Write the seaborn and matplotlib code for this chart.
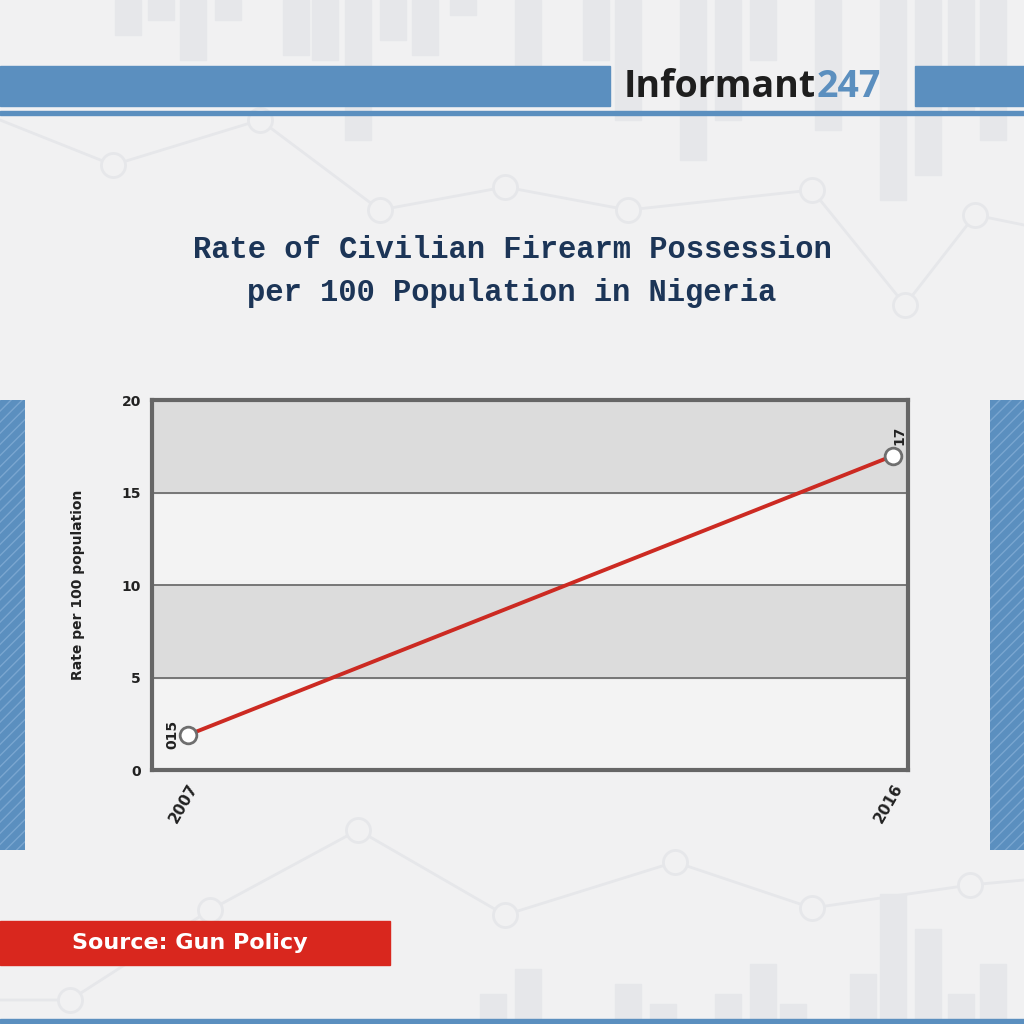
import matplotlib
matplotlib.use("Agg")
import matplotlib.pyplot as plt
import matplotlib.patches as mpatches
import seaborn as sns
import pandas as pd

# data
years = [2007, 2016]
rates = [1.9, 17]
point_labels = ["015", "17"]
y_ticks = [0, 5, 10, 15, 20]

df = pd.DataFrame({"year": years, "rate": rates})

sns.set_style("white")
plt.rcParams["font.family"] = ["DejaVu Sans"]

fig = plt.figure(figsize=(10.24, 10.24), dpi=100)
fig.patch.set_facecolor("#f1f1f2")

# =====================
# BACKGROUND DECORATION
# =====================
bg = fig.add_axes([0, 0, 1, 1], zorder=0)
bg.set_xlim(0, 1024)
bg.set_ylim(1024, 0)
bg.axis("off")

deco = "#e6e7ea"
# faint bars top and bottom
for x, y0, h in [(115, 0, 35), (148, 0, 20), (180, 0, 60), (215, 0, 20), (283, 0, 55), (312, 0, 60),
                 (345, 0, 140), (380, 0, 40), (412, 0, 55), (450, 0, 15), (515, 0, 100), (583, 0, 60),
                 (615, 0, 120), (680, 0, 160), (715, 0, 120), (750, 0, 60), (815, 0, 130), (880, 0, 200),
                 (915, 0, 175), (948, 0, 110), (980, 0, 140)]:
    bg.add_patch(mpatches.Rectangle((x, y0), 26, h, color=deco, zorder=0))
for x, h in [(480, 30), (515, 55), (615, 40), (650, 20), (715, 30), (750, 60), (780, 20), (850, 50),
             (880, 130), (915, 95), (948, 30), (980, 60)]:
    bg.add_patch(mpatches.Rectangle((x, 1024 - h), 26, h, color=deco, zorder=0))
# faint connecting lines with circles
deco_x = [0, 113, 260, 380, 505, 628, 812, 905, 975, 1024]
deco_y = [120, 165, 120, 210, 187, 210, 190, 305, 215, 225]
bg.plot(deco_x, deco_y, color=deco, lw=2, zorder=0)
bg.scatter(deco_x[1:-1], deco_y[1:-1], s=300, facecolor="#f1f1f2", edgecolor=deco, lw=2, zorder=0)
deco_x2 = [0, 70, 210, 358, 505, 675, 812, 970, 1024]
deco_y2 = [1000, 1000, 910, 830, 915, 862, 908, 885, 880]
bg.plot(deco_x2, deco_y2, color=deco, lw=2, zorder=0)
bg.scatter(deco_x2[1:-1], deco_y2[1:-1], s=300, facecolor="#f1f1f2", edgecolor=deco, lw=2, zorder=0)

# header band
bg.add_patch(mpatches.Rectangle((0, 66), 610, 40, color="#5b8fbf", zorder=2))
bg.add_patch(mpatches.Rectangle((915, 66), 109, 40, color="#5b8fbf", zorder=2))
bg.add_patch(mpatches.Rectangle((0, 111), 1024, 4, color="#5b8fbf", zorder=2))
bg.add_patch(mpatches.Rectangle((0, 1019), 1024, 4, color="#5b8fbf", zorder=2))
brand = bg.text(624, 87, "Informant", fontsize=27, fontweight="bold", color="#1e1e1e", va="center",
                ha="left", family="Open Sans", zorder=3)
fig.canvas.draw()
bb = brand.get_window_extent().transformed(bg.transData.inverted())
bg.text(bb.x1, 87, "247", fontsize=27, fontweight="bold", color="#5b8fbf", va="center", ha="left",
        family="Open Sans", zorder=3)

# side stripes
for x0, w in ((0, 25), (990, 34)):
    bg.add_patch(mpatches.Rectangle((x0, 400), w, 450, facecolor="#5b8fbf",
                                    edgecolor="#7aa6d0", hatch="///", lw=0, zorder=2))

# source box
bg.add_patch(mpatches.Rectangle((0, 921), 390, 44, color="#d9271e", zorder=2))
bg.text(72, 943, "Source: Gun Policy", fontsize=16, fontweight="bold", color="white", va="center",
        ha="left", family="DejaVu Sans", zorder=3)

# title
fig.text(0.5, 0.735, "Rate of Civilian Firearm Possession\nper 100 Population in Nigeria",
         ha="center", va="center", fontsize=22, fontweight="bold", color="#1c3557",
         family="Liberation Mono", linespacing=1.55)

# =====================
# CHART
# =====================
ax = fig.add_axes([0.1484, 0.248, 0.738, 0.361], zorder=1)
ax.set_facecolor("#f3f3f3")
for lo in (5, 15):
    ax.axhspan(lo, lo + 5, color="#dcdcdc", zorder=0)
for y in (5, 10, 15):
    ax.axhline(y, color="#6e6e6e", lw=1.3, zorder=1)

sns.lineplot(data=df, x="year", y="rate", ax=ax, color="#cc2a22", lw=2.8, zorder=3,
             marker="o", markersize=12, markerfacecolor="white", markeredgecolor="#6e6e6e",
             markeredgewidth=2)

ax.text(years[0] - 0.2, rates[0], point_labels[0], rotation=90, ha="center", va="center",
        fontsize=10, fontweight="bold", color="#222222")
ax.text(years[1], rates[1] + 1.1, point_labels[1], rotation=90, ha="left", va="center",
        fontsize=10, fontweight="bold", color="#222222")

ax.set_xlim(2006.54, 2016.19)
ax.set_ylim(0, 20)
ax.set_xticks(years)
ax.set_xticklabels([str(y) for y in years], rotation=60, ha="right", rotation_mode="anchor",
                   fontsize=11, fontweight="bold", color="#222222")
ax.set_yticks(y_ticks)
ax.set_yticklabels([str(t) for t in y_ticks], fontsize=10, fontweight="bold", color="#222222")
ax.tick_params(axis="both", length=0, pad=8)
ax.set_xlabel("")
ax.set_ylabel("Rate per 100 population", fontsize=10, fontweight="bold", color="#222222", labelpad=26)
for s in ax.spines.values():
    s.set_visible(True)
    s.set_color("#666666")
    s.set_linewidth(3)

fig.savefig("out.png", dpi=100, facecolor=fig.get_facecolor())
